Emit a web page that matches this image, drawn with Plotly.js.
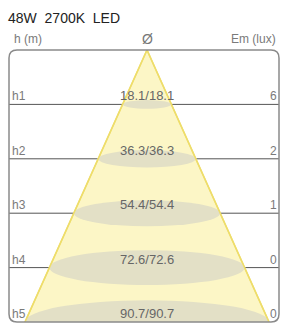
<!DOCTYPE html>
<html>
<head>
<meta charset="utf-8">
<script src="https://cdn.plot.ly/plotly-3.0.1.min.js"></script>
<style>html,body{margin:0;padding:0;background:#fff;}#chart{width:284px;height:327px;}</style>
</head>
<body>
<div id="chart"></div>
<script>
const titleText = '48W\u00a0\u00a02700K\u00a0\u00a0LED';
const levels = ['h1', 'h2', 'h3', 'h4', 'h5'];
const diameters = [18.1, 36.3, 54.4, 72.6, 90.7];
const illuminance = [6, 2, 1, 0, 0];
const headerLeft = 'h (m)';
const headerMid = 'Ø';
const headerRight = 'Em (lux)';

// scale: half-width in x-units per diameter unit
const K = 1.345;
const RY = 0.08;

const shapes = [];
const annotations = [];
const nL = levels.length;

// horizontal level lines (below the cone)
levels.forEach((lv, i) => {
  const y = i + 1;
  if (y < nL) {
    shapes.push({type: 'line', xref: 'x', yref: 'y', x0: -138, x1: 132, y0: y, y1: y,
      line: {color: '#555', width: 1}, layer: 'below'});
  }
});
// cone
const rMax = diameters[nL - 1] * K;
shapes.push({type: 'path', xref: 'x', yref: 'y',
  path: `M 0,0 L ${rMax},${nL} L ${-rMax},${nL} Z`,
  fillcolor: '#fcf6c6', line: {color: '#eedd6a', width: 1.5}, layer: 'below'});
// ellipses
diameters.forEach((d, i) => {
  const y = i + 1;
  const rx = d * K;
  const ry = RY * y;
  shapes.push({type: 'circle', xref: 'x', yref: 'y', x0: -rx, x1: rx, y0: y - ry, y1: y + ry,
    fillcolor: '#e3e0c6', line: {width: 0}, layer: 'below'});
});
// re-draw cone edges over ellipses
shapes.push({type: 'path', xref: 'x', yref: 'y',
  path: `M ${-rMax},${nL} L 0,0 L ${rMax},${nL}`,
  line: {color: '#eedd6a', width: 1.5}, layer: 'below'});
// rounded box
const rx = 8 / 270, ry = 8 / 272;
shapes.push({type: 'path', xref: 'paper', yref: 'paper',
  path: `M ${rx},1 L ${1-rx},1 Q 1,1 1,${1-ry} L 1,${ry} Q 1,0 ${1-rx},0 L ${rx},0 Q 0,0 0,${ry} L 0,${1-ry} Q 0,1 ${rx},1 Z`,
  line: {color: '#8a8a8a', width: 1.5}, fillcolor: 'rgba(0,0,0,0)', layer: 'above'});

const sideFont = {family: 'Liberation Sans, Arial, sans-serif', size: 12, color: '#7a7a7a'};
levels.forEach((lv, i) => {
  const y = i + 1;
  annotations.push({xref: 'x', yref: 'y', x: -136, y: y, text: lv, showarrow: false,
    xanchor: 'left', yanchor: 'bottom', font: sideFont, borderpad: 0});
  annotations.push({xref: 'x', yref: 'y', x: 131, y: y, text: String(illuminance[i]), showarrow: false,
    xanchor: 'right', yanchor: 'bottom', font: sideFont, borderpad: 0});
  annotations.push({xref: 'x', yref: 'y', x: 0, y: y, text: diameters[i].toFixed(1) + '/' + diameters[i].toFixed(1),
    showarrow: false, xanchor: 'center', yanchor: 'bottom',
    font: {family: 'Liberation Sans, Arial, sans-serif', size: 13, color: '#666'}, borderpad: 0});
});
annotations.push({xref: 'x', yref: 'paper', x: -135, y: 1, yanchor: 'bottom', xanchor: 'left', yshift: 2,
  text: headerLeft, showarrow: false, font: sideFont});
annotations.push({xref: 'x', yref: 'paper', x: 131, y: 1, yanchor: 'bottom', xanchor: 'right', yshift: 2,
  text: headerRight, showarrow: false, font: sideFont});
annotations.push({xref: 'x', yref: 'paper', x: 0, y: 1, yanchor: 'bottom', xanchor: 'center', yshift: 1,
  text: headerMid, showarrow: false, font: {family: 'Liberation Sans, Arial, sans-serif', size: 14, color: '#777'}});

const layout = {
  width: 284, height: 327,
  margin: {l: 9, r: 5, t: 50, b: 5},
  paper_bgcolor: '#fff', plot_bgcolor: '#fff',
  title: {text: titleText, xref: 'container', yref: 'container', x: 8 / 284, xanchor: 'left',
    y: 1 - 18 / 327, yanchor: 'middle',
    font: {family: 'Liberation Sans, Arial, sans-serif', size: 14, color: '#222'}},
  xaxis: {range: [-138, 132], visible: false, fixedrange: true},
  yaxis: {range: [nL, 0], visible: false, fixedrange: true},
  shapes: shapes,
  annotations: annotations,
  showlegend: false
};
Plotly.newPlot('chart', [{x: [0], y: [0], mode: 'markers', marker: {opacity: 0}, hoverinfo: 'skip'}], layout, {staticPlot: true});
</script>
</body>
</html>
